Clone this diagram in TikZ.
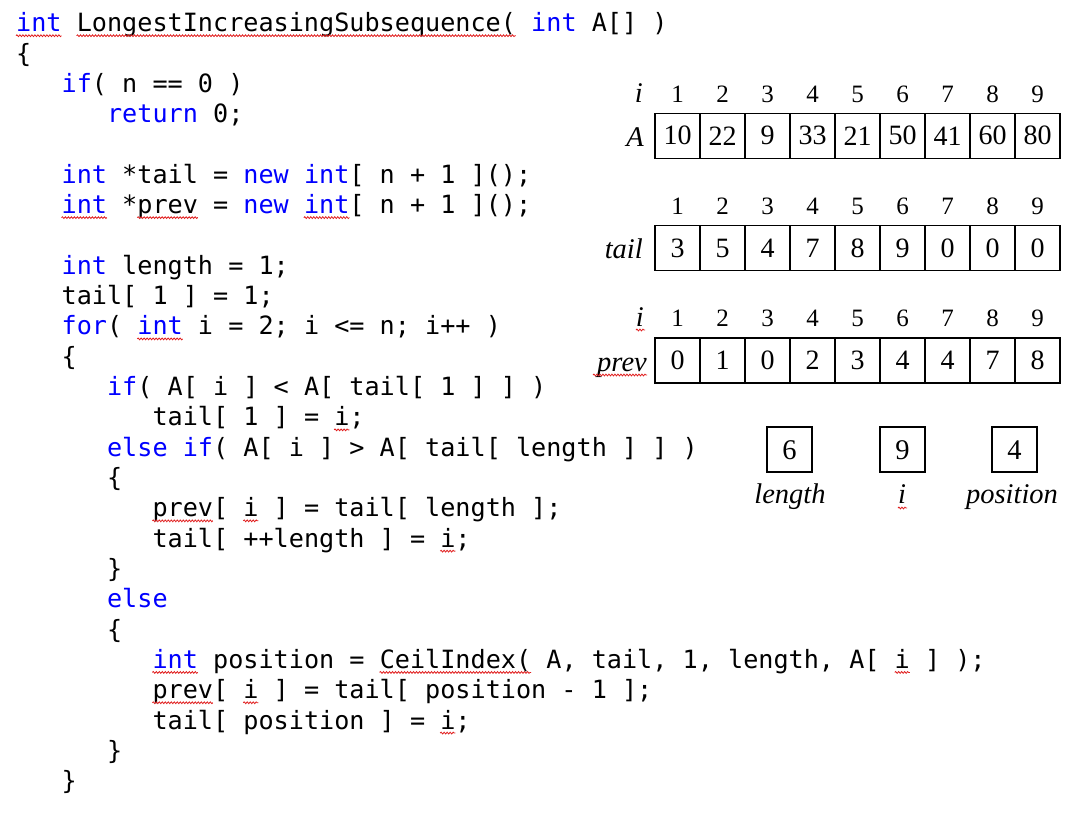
\documentclass[tikz,border=0pt]{standalone}
\usepackage{fontspec}
\setmainfont{Liberation Serif}
\newfontfamily\codefont{DejaVu Sans Mono}
\usetikzlibrary{decorations.pathmorphing}
\definecolor{kw}{RGB}{0,0,255}
\definecolor{sqred}{RGB}{225,30,30}
\newcommand\kw[1]{\textcolor{kw}{#1}}
\newcommand\spellsq[3]{\draw[squig] ({16+#2*15.15},{35.7+(#1-1)*30.32}) -- ({16+(#3+1)*15.15},{35.7+(#1-1)*30.32});}
\frenchspacing
\begin{document}
\begin{tikzpicture}[x=1pt,y=-1pt,
  code/.style={anchor=base west, inner sep=0pt, font=\codefont\fontsize{25.16}{30}\selectfont},
  cell/.style={draw, line width=1.3pt, minimum width=45pt, minimum height=45pt, inner sep=0pt, font=\fontsize{28}{32}\selectfont},
  valbox/.style={draw, line width=2pt, minimum width=45pt, minimum height=45pt, inner sep=0pt, font=\fontsize{28.5}{32}\selectfont},
  hdr/.style={anchor=base, inner sep=0pt, font=\fontsize{25}{30}\selectfont},
  lab/.style={anchor=base east, inner sep=0pt, font=\fontsize{28.5}{32}\selectfont\itshape},
  blab/.style={anchor=base, inner sep=0pt, font=\fontsize{28.5}{32}\selectfont\itshape},
  squig/.style={draw=sqred, line width=0.8pt, decorate, decoration={snake, segment length=3pt, amplitude=0.9pt}}
]
\useasboundingbox[fill=white] (0,0) rectangle (1080,820);

% ---------- code ----------
\def\cx#1{{16+#1*15.15}}
\def\cy#1{{31.7+(#1-1)*30.32}}
\node[code] (l1)  at (\cx{0},\cy{1})  {\kw{int} LongestIncreasingSubsequence( \kw{int} A[] )};
\node[code] (l2)  at (\cx{0},\cy{2})  {\{};
\node[code] (l3)  at (\cx{3},\cy{3})  {\kw{if}( n == 0 )};
\node[code] (l4)  at (\cx{6},\cy{4})  {\kw{return} 0;};
\node[code] (l6)  at (\cx{3},\cy{6})  {\kw{int} *tail = \kw{new} \kw{int}[ n + 1 ]();};
\node[code] (l7)  at (\cx{3},\cy{7})  {\kw{int} *prev = \kw{new} \kw{int}[ n + 1 ]();};
\node[code] (l9)  at (\cx{3},\cy{9})  {\kw{int} length = 1;};
\node[code] (l10) at (\cx{3},\cy{10}) {tail[ 1 ] = 1;};
\node[code] (l11) at (\cx{3},\cy{11}) {\kw{for}( \kw{int} i = 2; i <= n; i++ )};
\node[code] (l12) at (\cx{3},\cy{12}) {\{};
\node[code] (l13) at (\cx{6},\cy{13}) {\kw{if}( A[ i ] < A[ tail[ 1 ] ] )};
\node[code] (l14) at (\cx{9},\cy{14}) {tail[ 1 ] = i;};
\node[code] (l15) at (\cx{6},\cy{15}) {\kw{else} \kw{if}( A[ i ] > A[ tail[ length ] ] )};
\node[code] (l16) at (\cx{6},\cy{16}) {\{};
\node[code] (l17) at (\cx{9},\cy{17}) {prev[ i ] = tail[ length ];};
\node[code] (l18) at (\cx{9},\cy{18}) {tail[ ++length ] = i;};
\node[code] (l19) at (\cx{6},\cy{19}) {\}};
\node[code] (l20) at (\cx{6},\cy{20}) {\kw{else}};
\node[code] (l21) at (\cx{6},\cy{21}) {\{};
\node[code] (l22) at (\cx{9},\cy{22}) {\kw{int} position = CeilIndex( A, tail, 1, length, A[ i ] );};
\node[code] (l23) at (\cx{9},\cy{23}) {prev[ i ] = tail[ position - 1 ];};
\node[code] (l24) at (\cx{9},\cy{24}) {tail[ position ] = i;};
\node[code] (l25) at (\cx{6},\cy{25}) {\}};
\node[code] (l26) at (\cx{3},\cy{26}) {\}};

% spell-check squiggles in code
\spellsq{1}{0}{2}
\spellsq{1}{4}{32}
\spellsq{7}{3}{5}
\spellsq{7}{8}{11}
\spellsq{7}{19}{21}
\spellsq{11}{8}{10}
\spellsq{14}{21}{21}
\spellsq{17}{9}{12}
\spellsq{17}{15}{15}
\spellsq{18}{28}{28}
\spellsq{22}{9}{11}
\spellsq{22}{24}{33}
\spellsq{22}{58}{58}
\spellsq{23}{9}{12}
\spellsq{23}{15}{15}
\spellsq{24}{28}{28}

% ---------- arrays ----------
\foreach \v [count=\j] in {10,22,9,33,21,50,41,60,80} {
  \node[hdr]  (ah\j) at ({632.5+45*\j},102.3) {\j};
  \node[cell] (a\j)  at ({632.5+45*\j},135.8) {\v};
}
\node[lab] (ai) at (643,102.3) {i};
\node[lab] (aA) at (644,146.5) {A};

\foreach \v [count=\j] in {3,5,4,7,8,9,0,0,0} {
  \node[hdr]  (th\j) at ({632.5+45*\j},214) {\j};
  \node[cell] (t\j)  at ({632.5+45*\j},248) {\v};
}
\node[lab] (tl) at (643,258.5) {tail};

\foreach \v [count=\j] in {0,1,0,2,3,4,4,7,8} {
  \node[hdr]  (ph\j) at ({632.5+45*\j},326.7) {\j};
  \node[cell] (p\j)  at ({632.5+45*\j},360.5) {\v};
}
\node[lab] (pi) at (644,326.7) {i};
\node[lab] (pl) at (647,371.7) {prev};
\draw[squig] (636,330) -- (645,330);
\draw[squig] (593,375) -- (647,375);

% ---------- scalar boxes ----------
\node[valbox] (blen) at (789.5,449.8) {6};
\node[valbox] (bi)   at (902.5,449.8) {9};
\node[valbox] (bpos) at (1014.5,449.8) {4};
\node[blab] (llen) at (790,503) {length};
\node[blab] (li)   at (902,503) {i};
\node[blab] (lpos) at (1012,503) {position};
\draw[squig] (898,508) -- (907,508);
\end{tikzpicture}
\end{document}
